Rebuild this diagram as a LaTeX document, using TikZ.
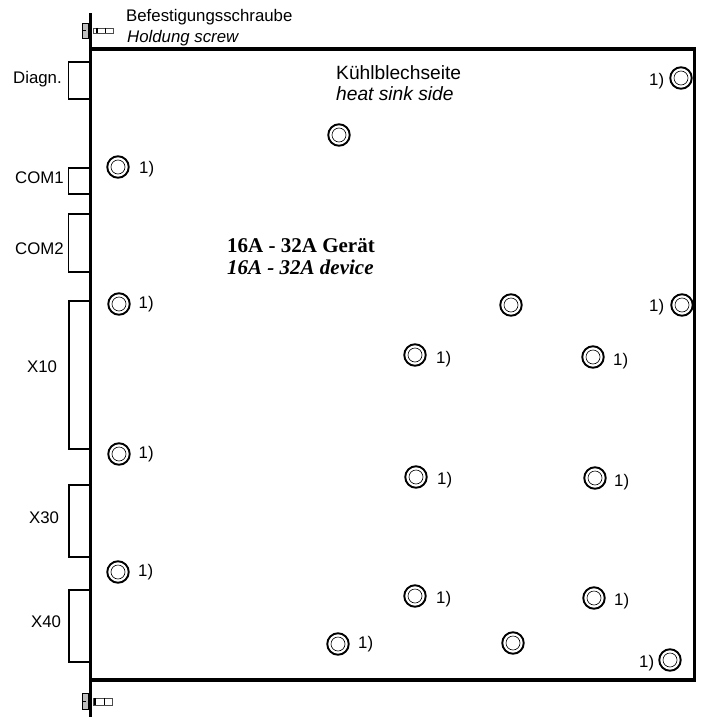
\documentclass[tikz,border=0pt]{standalone}
\usepackage{fontspec}
\setmainfont{Liberation Sans}
\newfontfamily\serifface{Liberation Serif}
\tikzset{
  wall/.style={line width=3.8pt,line cap=rect},
  port/.style={draw,line width=1.3pt,fill=white},
  lab/.style={inner sep=0pt,anchor=base west,font=\fontsize{16.8pt}{19pt}\selectfont},
  outer/.style={circle,draw,line width=1.9pt,minimum size=21.5pt,inner sep=0pt},
  inner/.style={circle,draw,line width=0.6pt,minimum size=14pt,inner sep=0pt},
  screwhead/.style={draw,line width=0.5pt,fill=black!25},
  screwbody/.style={draw,black!70,line width=0.7pt,fill=white}
}
\newcommand{\standoff}[3]{%
  \node[outer] (#1) at (#2,#3) {};
  \node[inner] (#1i) at (#2,#3) {};
}
\begin{document}
\begin{tikzpicture}[x=1pt,y=-1pt]
\useasboundingbox (0,0) rectangle (701,717);
% ports
\draw[port] (68.3,62) rectangle (90,99);
\draw[port] (68.3,168) rectangle (90,194);
\draw[port] (68.3,214) rectangle (90,272);
\draw[port] (69,301) rectangle (90,449);
\draw[port] (69,485) rectangle (90,557);
\draw[port] (69,590) rectangle (90,662);
% standoffs
\standoff{a}{118}{167}
\standoff{b}{339}{135}
\standoff{c}{681}{78}
\standoff{d}{119}{304}
\standoff{e}{511}{305}
\standoff{f}{682}{305}
\standoff{g}{415}{355}
\standoff{h}{593}{357}
\standoff{i}{119}{454}
\standoff{j}{416}{477}
\standoff{k}{595}{478}
\standoff{l}{118}{572}
\standoff{m}{415}{596}
\standoff{n}{594}{598}
\standoff{o}{338}{644}
\standoff{p}{513}{643}
\standoff{q}{670}{660}
% housing
\draw[wall] (90.5,15) -- (90.5,717);
\draw[wall] (90.5,49) -- (694.5,49) -- (694.5,680) -- (90.5,680);
% screws
\draw[screwhead] (82,23) rectangle (88,38);
\draw[line width=0.9pt] (83,30.5) -- (86,30.5);
\draw[screwbody] (93,28) rectangle (113,33.5);
\draw[line width=0.7pt] (105,28) -- (105,33.5);
\draw[line width=1.2pt] (97,28) -- (97,33.5);
\draw[screwhead] (82,693.5) rectangle (88,709);
\draw[line width=0.9pt] (83,701) -- (86,701);
\draw[screwbody] (93,698) rectangle (112,705);
\draw[line width=0.7pt] (104,698) -- (104,705);
\draw[line width=1.2pt] (95,698) -- (95,705);
% footnote marks
\node[lab] (fa) at (139,173) {1)};
\node[lab] (fc) at (649,85) {1)};
\node[lab] (fd) at (138.5,308) {1)};
\node[lab] (ff) at (649,311) {1)};
\node[lab] (fg) at (436,363) {1)};
\node[lab] (fh) at (613,365) {1)};
\node[lab] (fi) at (138.5,458) {1)};
\node[lab] (fj) at (437,484) {1)};
\node[lab] (fk) at (614,486) {1)};
\node[lab] (fl) at (138,576) {1)};
\node[lab] (fm) at (436,603) {1)};
\node[lab] (fn) at (614,605) {1)};
\node[lab] (fo) at (358,648) {1)};
\node[lab] (fq) at (639,667) {1)};
% port labels
\node[lab] (ld) at (13,84) {Diagn.};
\node[lab] (l1) at (15,183) {COM1};
\node[lab] (l2) at (15,254) {COM2};
\node[lab] (l3) at (27,372) {X10};
\node[lab] (l4) at (29,523) {X30};
\node[lab] (l5) at (31,627) {X40};
% texts
\node[lab] (t1) at (126,22) {Befestigungsschraube};
\node[lab,font=\fontsize{16.8pt}{19pt}\itshape] (t2) at (127,43) {Holdung screw};
\node[lab,font=\fontsize{19.2pt}{22pt}\selectfont] (t3) at (336,79) {Kühlblechseite};
\node[lab,font=\fontsize{19.2pt}{22pt}\itshape] (t4) at (336,100) {heat sink side};
\node[lab,font=\fontsize{21pt}{24pt}\serifface\bfseries] (t5) at (227,252) {16A - 32A Gerät};
\node[lab,font=\fontsize{21pt}{24pt}\serifface\bfseries\itshape] (t6) at (227,274) {16A - 32A device};
\end{tikzpicture}
\end{document}
